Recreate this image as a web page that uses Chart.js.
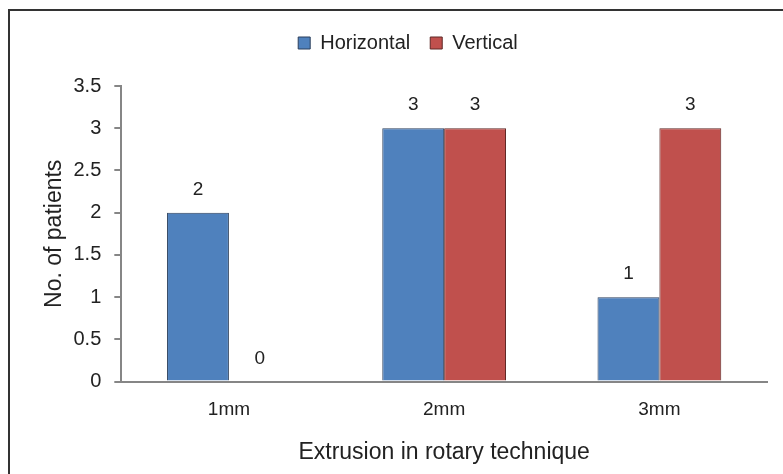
<!DOCTYPE html>
<html>
<head>
<meta charset="utf-8">
<script src="https://cdn.jsdelivr.net/npm/chart.js@4"></script>
<style>
  html, body { margin: 0; padding: 0; background: #fff; overflow: hidden; }
  #frame { position: absolute; left: 8px; top: 9px; width: 820px; height: 520px; border: 2px solid #333; }
  #wrap { position: absolute; left: 0; top: 0; width: 783px; height: 474px; }
</style>
</head>
<body>
<div id="frame"></div>
<div id="wrap"><canvas id="extrusion-chart"></canvas></div>
<script>
const categories = ['1mm', '2mm', '3mm'];
const horizontal = [2, 3, 1];
const vertical = [0, 3, 3];
const yTicks = [0, 0.5, 1, 1.5, 2, 2.5, 3, 3.5];

const FONT = '"Liberation Sans", Arial, sans-serif';

// value labels above each bar
const barLabels = {
  id: 'barLabels',
  afterDatasetsDraw(chart) {
    const ctx = chart.ctx;
    ctx.save();
    ctx.font = '19px ' + FONT;
    ctx.fillStyle = '#222';
    ctx.textAlign = 'center';
    ctx.textBaseline = 'middle';
    chart.data.datasets.forEach((ds, i) => {
      chart.getDatasetMeta(i).data.forEach((bar, j) => {
        ctx.fillText(ds.data[j], bar.x, bar.y - 23);
      });
    });
    ctx.restore();
  }
};

// extra room under the legend
const legendGap = {
  id: 'legendGap',
  beforeInit(chart) {
    const fit = chart.legend.fit;
    chart.legend.fit = function () {
      fit.bind(chart.legend)();
      this.height += 23;
    };
  }
};

const canvas = document.getElementById('extrusion-chart');
new Chart(canvas, {
  type: 'bar',
  data: {
    labels: categories,
    datasets: [
      {
        label: 'Horizontal',
        data: horizontal,
        backgroundColor: '#4F81BD',
        borderColor: '#2b3f5c',
        borderWidth: 1,
        categoryPercentage: 0.575,
        barPercentage: 1
      }, {
        label: 'Vertical',
        data: vertical,
        backgroundColor: '#C0504D',
        borderColor: '#5e2826',
        borderWidth: 1,
        categoryPercentage: 0.575,
        barPercentage: 1
      }
    ]
  },
  options: {
    responsive: true,
    maintainAspectRatio: false,
    animation: false,
    layout: {
      padding: { left: 49, right: 16, top: 13, bottom: 4 }
    },
    scales: {
      x: {
        grid: { drawOnChartArea: false, drawTicks: false },
        border: { color: '#868686', width: 2 },
        ticks: {
          padding: 17,
          color: '#222',
          font: { size: 19, family: FONT }
        },
        title: {
          display: true,
          text: 'Extrusion in rotary technique',
          color: '#222',
          padding: { top: 0 },
          font: { size: 23, family: FONT }
        }
      },
      y: {
        min: 0,
        max: 3.5,
        afterBuildTicks(axis) {
          axis.ticks = yTicks.map(v => ({ value: v }));
        },
        grid: { drawOnChartArea: false, drawTicks: true, tickLength: 7, color: '#868686', lineWidth: 2 },
        border: { color: '#868686', width: 2 },
        ticks: {
          padding: 13,
          color: '#222',
          font: { size: 20, family: FONT },
          callback: v => String(v)
        },
        title: {
          display: true,
          text: 'No. of patients',
          color: '#222',
          padding: { top: 0, bottom: 0 },
          font: { size: 23, family: FONT, lineHeight: 0.5 }
        }
      }
    },
    plugins: {
      legend: {
        position: 'top',
        labels: {
          boxWidth: 12,
          boxHeight: 12,
          padding: 20,
          color: '#222',
          font: { size: 20, family: FONT }
        }
      },
      tooltip: { enabled: false }
    }
  },
  plugins: [barLabels, legendGap]
});
</script>
</body>
</html>
